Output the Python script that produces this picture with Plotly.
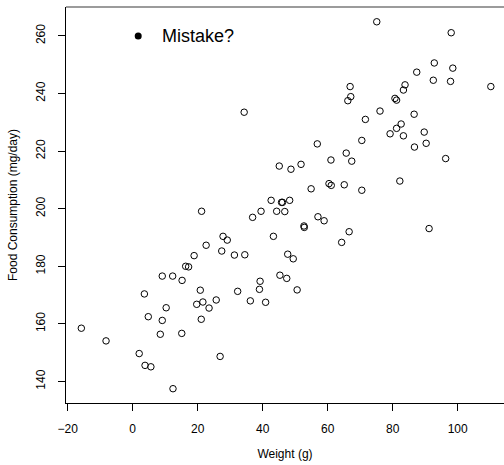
import plotly.graph_objects as go

# Body weight (g) and daily food consumption (mg/day)
weight = [
    34.3, 56.8, 75.1, 98.0, 92.8, 98.5, 87.4, 92.5, 97.8, 110.2,
    66.9, 83.8, 83.3, 67.1, 66.2, 80.7, 81.2, 76.1, 71.6, 86.6,
    82.6, 81.2, 79.2, 83.3, 89.7, 90.3, 86.7, 70.5, 65.7, 61.0,
    67.4, 96.3, 60.4, 61.1, 65.1, 70.5, 82.2, 58.9, 66.6, 64.3,
    91.2, 45.1, 48.7, 51.8, 54.9, 21.2, 42.6, 45.8, 46.1, 48.3,
    39.5, 36.9, 44.3, 46.8, 57.0, 52.7, 52.8, 43.3, 27.8, 29.1,
    22.6, 27.4, 31.3, 34.5, 18.9, 16.3, 17.2, 47.7, 49.4, 45.3,
    47.4, 9.1, 12.3, 15.2, 39.2, 39.0, 20.8, 32.3, 50.6, 19.7,
    21.6, 23.5, 25.7, 36.2, 40.9, 10.3, -15.8, -8.2, 2.0, 3.8,
    5.6, 12.4, 3.6, 4.8, 9.1, 8.5, 15.1, 26.9, 21.1,
]
food_consumption = [
    233.5, 222.5, 264.9, 261.1, 250.6, 248.8, 247.4, 244.6, 244.2, 242.4,
    242.4, 243.0, 241.2, 238.9, 237.5, 238.3, 237.7, 233.9, 231.0, 232.8,
    229.4, 227.9, 226.0, 225.3, 226.6, 222.7, 221.4, 223.7, 219.3, 216.9,
    216.5, 217.4, 208.7, 208.1, 208.3, 206.4, 209.6, 195.8, 192.0, 188.3,
    193.1, 214.8, 213.7, 215.4, 206.9, 199.1, 202.9, 202.2, 202.2, 202.9,
    199.1, 197.0, 199.1, 199.0, 197.2, 194.0, 193.5, 190.4, 190.4, 189.1,
    187.3, 185.3, 183.9, 184.0, 183.7, 180.0, 179.8, 184.2, 182.6, 176.9,
    175.8, 176.6, 176.6, 175.1, 174.8, 172.0, 171.7, 171.3, 171.8, 166.8,
    167.6, 165.5, 168.3, 168.0, 167.5, 165.6, 158.5, 154.1, 149.7, 145.6,
    145.1, 137.5, 170.4, 162.5, 161.2, 156.4, 156.7, 148.7, 161.6,
]

# Key entry
key_x = [1.7]
key_y = [260]
key_label = "Mistake?"
key_text_x = 8.4

x_ticks = [-20, 0, 20, 40, 60, 80, 100]
y_ticks = [140, 160, 180, 200, 220, 240, 260]

FONT = "Liberation Sans, Arial, Helvetica, sans-serif"

fig = go.Figure()

fig.add_trace(go.Scatter(
    x=weight, y=food_consumption, mode="markers",
    marker=dict(symbol="circle-open", size=6.5, color="black",
                line=dict(width=1, color="black")),
    showlegend=False, hoverinfo="x+y",
))

fig.add_trace(go.Scatter(
    x=key_x, y=key_y, mode="markers",
    marker=dict(symbol="circle", size=7, color="black"),
    showlegend=False, hoverinfo="skip",
))

fig.add_annotation(
    x=key_text_x, y=key_y[0], text=key_label, showarrow=False,
    xanchor="left", yanchor="middle",
    font=dict(family=FONT, size=18, color="black"),
)

# Top edge of the frame
fig.add_shape(type="line", xref="paper", yref="paper",
              x0=0, x1=1, y0=1, y1=1,
              line=dict(color="#7a7a7a", width=1.5))

fig.update_layout(
    width=504, height=465,
    margin=dict(l=66, r=0, t=7, b=62),
    paper_bgcolor="white", plot_bgcolor="white",
    font=dict(family=FONT, size=12, color="black"),
    xaxis=dict(
        range=[-20.52, 114.25], tickvals=x_ticks,
        showgrid=False, zeroline=False,
        showline=True, linecolor="black", linewidth=1,
        ticks="outside", ticklen=7, tickcolor="black", tickwidth=1,
        ticklabelstandoff=8,
        tickfont=dict(family=FONT, size=12),
        title=dict(text="Weight (g)", standoff=14,
                   font=dict(family=FONT, size=12)),
    ),
    yaxis=dict(
        range=[132.53, 270.03], tickvals=y_ticks,
        showgrid=False, zeroline=False,
        showline=True, linecolor="black", linewidth=1,
        ticks="outside", ticklen=7, tickcolor="black", tickwidth=1,
        tickangle=-90, ticklabelstandoff=8,
        tickfont=dict(family=FONT, size=12),
        title=dict(text="Food Consumption (mg/day)", standoff=14,
                   font=dict(family=FONT, size=12)),
    ),
)

fig.write_html("out.html")
